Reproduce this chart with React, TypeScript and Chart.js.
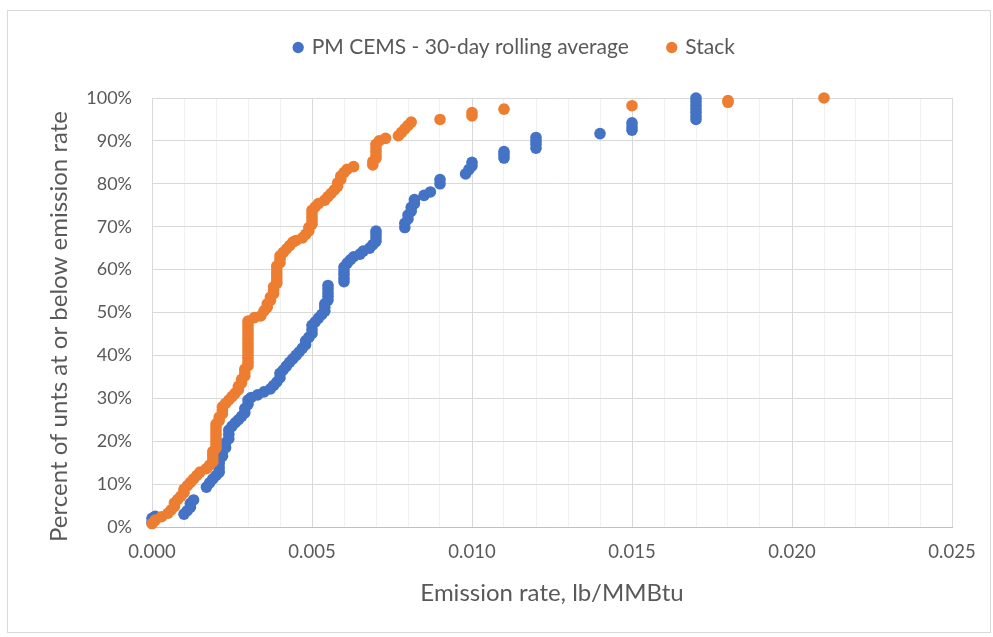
import React, { useEffect, useRef } from "react";
import { Chart, registerables } from "chart.js";

Chart.register(...registerables);

const seriesNames = ["PM CEMS - 30-day rolling average", "Stack"];

const pmX = [
  0.0000, 0.0000, 0.0001, 0.0010, 0.0011, 0.0012, 0.0012, 0.0013, 0.0017, 0.0018,
  0.0019, 0.0020, 0.0021, 0.0021, 0.0021, 0.0021, 0.0022, 0.0022, 0.0023, 0.0023,
  0.0024, 0.0024, 0.0024, 0.0025, 0.0026, 0.0027, 0.0028, 0.0029, 0.0029, 0.0030,
  0.0030, 0.0031, 0.0033, 0.0035, 0.0037, 0.0038, 0.0039, 0.0040, 0.0040, 0.0041,
  0.0042, 0.0043, 0.0044, 0.0045, 0.0046, 0.0047, 0.0048, 0.0048, 0.0049, 0.0050,
  0.0050, 0.0050, 0.0051, 0.0052, 0.0053, 0.0054, 0.0054, 0.0054, 0.0055, 0.0055,
  0.0055, 0.0055, 0.0055, 0.0060, 0.0060, 0.0060, 0.0060, 0.0060, 0.0061, 0.0062,
  0.0063, 0.0065, 0.0066, 0.0068, 0.0069, 0.0070, 0.0070, 0.0070, 0.0070, 0.0079,
  0.0079, 0.0080, 0.0080, 0.0081, 0.0081, 0.0082, 0.0082, 0.0085, 0.0087, 0.0090,
  0.0090, 0.0098, 0.0099, 0.0100, 0.0100, 0.0110, 0.0110, 0.0110, 0.0120, 0.0120,
  0.0120, 0.0120, 0.0140, 0.0150, 0.0150, 0.0150, 0.0170, 0.0170, 0.0170, 0.0170,
  0.0170, 0.0170, 0.0170,
];
const pmY = [
  1.0, 2.0, 2.5, 3.0, 3.8, 4.6, 5.5, 6.3, 9.3, 10.3,
  11.2, 12.0, 12.8, 13.8, 14.8, 15.6, 16.5, 17.5, 18.5, 19.6,
  20.6, 21.6, 22.6, 23.5, 24.3, 25.0, 25.8, 26.6, 27.6, 28.6,
  29.6, 30.2, 30.8, 31.5, 32.2, 33.0, 33.8, 34.8, 35.8, 36.6,
  37.5, 38.4, 39.2, 40.0, 40.8, 41.7, 42.5, 43.4, 44.2, 45.1,
  46.0, 47.0, 47.8, 48.7, 49.5, 50.3, 51.2, 52.0, 52.9, 53.8,
  54.6, 55.5, 56.3, 57.2, 58.0, 58.9, 59.7, 60.6, 61.5, 62.3,
  63.0, 63.6, 64.3, 65.0, 65.8, 66.6, 67.5, 68.3, 69.0, 69.8,
  70.8, 71.8, 72.7, 73.6, 74.5, 75.4, 76.3, 77.3, 78.1, 80.0,
  81.0, 82.3, 83.3, 84.2, 85.0, 86.0, 86.8, 87.5, 88.3, 89.2,
  90.0, 90.8, 91.7, 92.5, 93.3, 94.2, 95.0, 95.8, 96.7, 97.5,
  98.3, 99.2, 100.0,
];

const stackX = [
  0.0000, 0.0001, 0.0003, 0.0005, 0.0006, 0.0007, 0.0007, 0.0008, 0.0009, 0.0010,
  0.0010, 0.0011, 0.0012, 0.0013, 0.0014, 0.0015, 0.0017, 0.0018, 0.0019, 0.0019,
  0.0019, 0.0019, 0.0020, 0.0020, 0.0020, 0.0020, 0.0020, 0.0020, 0.0020, 0.0020,
  0.0021, 0.0021, 0.0022, 0.0022, 0.0022, 0.0023, 0.0024, 0.0025, 0.0026, 0.0027,
  0.0027, 0.0028, 0.0028, 0.0029, 0.0029, 0.0029, 0.0030, 0.0030, 0.0030, 0.0030,
  0.0030, 0.0030, 0.0030, 0.0030, 0.0030, 0.0030, 0.0030, 0.0030, 0.0030, 0.0030,
  0.0032, 0.0034, 0.0035, 0.0036, 0.0036, 0.0037, 0.0037, 0.0038, 0.0038, 0.0038,
  0.0039, 0.0039, 0.0039, 0.0039, 0.0039, 0.0039, 0.0040, 0.0040, 0.0040, 0.0041,
  0.0042, 0.0043, 0.0044, 0.0045, 0.0047, 0.0048, 0.0049, 0.0049, 0.0050, 0.0050,
  0.0050, 0.0050, 0.0050, 0.0051, 0.0052, 0.0054, 0.0055, 0.0056, 0.0057, 0.0058,
  0.0058, 0.0059, 0.0059, 0.0060, 0.0061, 0.0063, 0.0069, 0.0069, 0.0070, 0.0070,
  0.0070, 0.0070, 0.0070, 0.0071, 0.0073, 0.0077, 0.0078, 0.0079, 0.0080, 0.0081,
  0.0090, 0.0100, 0.0100, 0.0110, 0.0150, 0.0180, 0.0180, 0.0210,
];
const stackY = [
  0.8, 1.6, 2.4, 3.2, 4.0, 4.8, 5.6, 6.4, 7.2, 8.0,
  8.8, 9.6, 10.4, 11.2, 12.0, 12.8, 13.6, 14.4, 15.2, 16.0,
  16.8, 17.6, 18.4, 19.2, 20.0, 20.8, 21.6, 22.4, 23.2, 24.0,
  24.8, 25.6, 26.4, 27.2, 28.0, 28.8, 29.6, 30.4, 31.2, 32.0,
  32.8, 33.6, 34.4, 35.2, 36.0, 36.8, 37.6, 38.4, 39.2, 40.0,
  40.8, 41.6, 42.4, 43.2, 44.0, 44.8, 45.6, 46.4, 47.2, 48.0,
  48.8, 49.2, 50.4, 51.2, 52.0, 52.8, 53.6, 54.4, 55.2, 56.0,
  56.8, 57.6, 58.4, 59.2, 60.0, 60.8, 61.6, 62.4, 63.2, 64.0,
  64.8, 65.6, 66.4, 66.8, 67.4, 68.2, 69.0, 69.8, 70.6, 71.4,
  72.2, 73.0, 73.8, 74.6, 75.4, 76.2, 77.0, 77.8, 78.6, 79.4,
  80.2, 81.0, 81.8, 82.6, 83.4, 84.0, 84.4, 85.2, 86.0, 86.8,
  87.6, 88.4, 89.2, 90.0, 90.6, 91.2, 92.0, 92.8, 93.6, 94.4,
  95.0, 95.8, 96.6, 97.4, 98.2, 99.0, 99.4, 100.0,
];

const xTickLabels = ["0.000", "0.005", "0.010", "0.015", "0.020", "0.025"];
const yTickLabels = ["0%", "10%", "20%", "30%", "40%", "50%", "60%", "70%", "80%", "90%", "100%"];
const xTitle = "Emission rate, lb/MMBtu";
const yTitle = "Percent of unts at or below emission rate";

const FONT = "Lato, 'Noto Sans', sans-serif";
const TEXT = "#595959";

const layoutTweaks = {
  id: "layoutTweaks",
  afterInit(chart: any) {
    const lg = chart.legend;
    if (!lg || lg._spaced) return;
    const orig = lg.fit.bind(lg);
    lg.fit = function () {
      orig();
      this.height += 30;
    };
    lg._spaced = true;
  },
  afterLayout(chart: any) {
    const lg = chart.legend;
    if (lg) {
      lg.left += 20;
      lg.right += 20;
    }
    const ys = chart.scales.y;
    if (ys && !ys._shifted) {
      const origTitle = ys.drawTitle.bind(ys);
      ys.drawTitle = function () {
        const ctx = this.ctx;
        ctx.save();
        ctx.translate(0, 14);
        origTitle();
        ctx.restore();
      };
      ys._shifted = true;
    }
  },
};

export default function App() {
  const ref = useRef<HTMLCanvasElement | null>(null);

  useEffect(() => {
    if (!ref.current) return;
    const toPts = (xs: number[], ys: number[]) => xs.map((x, i) => ({ x, y: ys[i] }));
    const chart = new Chart(ref.current, {
      type: "scatter",
      plugins: [layoutTweaks],
      data: {
        datasets: [
          {
            label: seriesNames[0],
            data: toPts(pmX, pmY),
            backgroundColor: "#4472C4",
            borderWidth: 0,
            pointRadius: 5.8,
            order: 2,
            clip: false,
          },
          {
            label: seriesNames[1],
            data: toPts(stackX, stackY),
            backgroundColor: "#ED7D31",
            borderWidth: 0,
            pointRadius: 5.8,
            order: 1,
            clip: false,
          },
        ],
      },
      options: {
        animation: false,
        responsive: false,
        maintainAspectRatio: false,
        layout: { padding: { left: 30, right: 38, top: -14, bottom: 10 } },
        plugins: {
          tooltip: { enabled: false },
          legend: {
            position: "top",
            labels: {
              usePointStyle: true,
              pointStyle: "circle",
              boxWidth: 6,
              boxHeight: 8,
              padding: 40,
              color: TEXT,
              font: { family: FONT, size: 21 },
              sort: (a: any, b: any) => a.datasetIndex - b.datasetIndex,
            },
          },
        },
        scales: {
          x: {
            type: "linear",
            min: 0,
            max: 0.025,
            afterFit: (s: any) => {
              s.height = 95;
            },
            ticks: {
              stepSize: 0.001,
              autoSkip: false,
              maxRotation: 0,
              padding: 14,
              color: TEXT,
              font: { family: FONT, size: 18.5 },
              callback: (v: any) => {
                const k = Math.round(Number(v) * 1000);
                return k % 5 === 0 ? xTickLabels[k / 5] : "";
              },
            },
            grid: {
              drawTicks: false,
              color: (ctx: any) => {
                const k = Math.round((ctx.tick?.value ?? 0) * 1000);
                return k % 5 === 0 ? "#d9d9d9" : "#f1f1f1";
              },
            },
            border: { color: "#bfbfbf" },
            title: {
              display: true,
              text: xTitle,
              color: TEXT,
              font: { family: FONT, size: 24 },
              padding: { top: 0, bottom: 14 },
            },
          },
          y: {
            type: "linear",
            min: 0,
            max: 100,
            afterFit: (s: any) => {
              s.width = 114;
            },
            ticks: {
              stepSize: 10,
              padding: 20,
              color: TEXT,
              font: { family: FONT, size: 18 },
              callback: (v: any) => yTickLabels[Math.round(Number(v) / 10)],
            },
            grid: { drawTicks: false, color: "#d9d9d9" },
            border: { color: "#d9d9d9" },
            title: {
              display: true,
              text: yTitle,
              color: TEXT,
              font: { family: FONT, size: 24 },
              padding: { top: 7, bottom: 0 },
            },
          },
        },
      },
    });
    return () => chart.destroy();
  }, []);

  return (
    <div
      style={{
        position: "absolute",
        left: 7,
        top: 10,
        width: 984,
        height: 623,
        border: "1px solid #d9d9d9",
        boxSizing: "border-box",
        background: "#fff",
      }}
    >
      <canvas ref={ref} width={982} height={621} style={{ display: "block" }} />
    </div>
  );
}
